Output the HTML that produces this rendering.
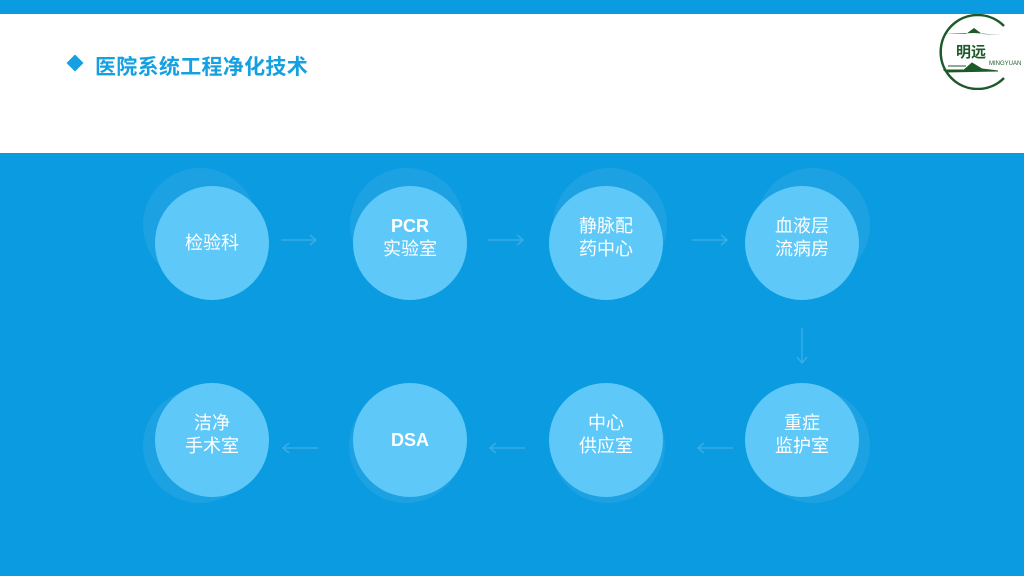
<!DOCTYPE html>
<html><head><meta charset="utf-8"><style>
body{margin:0;width:1024px;height:576px;overflow:hidden;position:relative;background:#0b9be0;font-family:"Liberation Sans","Noto Sans CJK SC",sans-serif}
.hdr{position:absolute;left:0;top:14px;width:1024px;height:139px;background:#fff}
.title{position:absolute;left:95px;top:51px;font-size:21px;font-weight:bold;color:#15a0e2;letter-spacing:0.3px}
.dia{position:absolute;left:69px;top:57px;width:12px;height:12px;background:#15a0e2;transform:rotate(45deg)}
.sh{position:absolute;width:114px;height:114px;border-radius:50%;background:rgba(255,255,255,0.07)}
.c{position:absolute;width:114px;height:114px;border-radius:50%;background:#5ec8f8;color:#fff;font-size:18px;line-height:23px;text-align:center;display:flex;align-items:center;justify-content:center}
</style></head><body>
<div class="hdr"></div>
<div class="dia"></div>
<div class="title">医院系统工程净化技术</div>
<svg style="position:absolute;left:924px;top:14px" width="100" height="76" viewBox="0 0 100 76">
<path d="M80 12 A37 37 0 1 0 80 64" fill="none" stroke="#1d5a2a" stroke-width="2.5"/>
<path d="M20 20 L42 20 L50 14 L58 20 L78 21 L50 19 Z" fill="#1d5a2a"/>
<text x="32" y="43" font-size="15" font-family="Liberation Sans,Noto Sans CJK SC,sans-serif" fill="#1d5a2a" font-weight="bold">明远</text>
<path d="M24 52 L42 52 M20 56 L40 56 L48 49 L58 55 L74 57 L22 58 Z" stroke="#1d5a2a" fill="#1d5a2a" stroke-width="1"/>
<text x="65" y="51" font-size="6" fill="#1d5a2a" font-family="Liberation Sans,sans-serif">MINGYUAN</text>
</svg>

<div class="sh" style="left:143px;top:168px"></div>
<div class="sh" style="left:350px;top:168px"></div>
<div class="sh" style="left:553px;top:168px"></div>
<div class="sh" style="left:756px;top:168px"></div>
<div class="sh" style="left:143px;top:389px"></div>
<div class="sh" style="left:349px;top:389px"></div>
<div class="sh" style="left:551px;top:389px"></div>
<div class="sh" style="left:756px;top:389px"></div>

<div class="c" style="left:155px;top:186px">检验科</div>
<div class="c" style="left:353px;top:186px"><div style="margin-top:-10px"><b>PCR</b><br>实验室</div></div>
<div class="c" style="left:549px;top:186px"><div style="margin-top:-10px">静脉配<br>药中心</div></div>
<div class="c" style="left:745px;top:186px"><div style="margin-top:-10px">血液层<br>流病房</div></div>
<div class="c" style="left:155px;top:383px"><div style="margin-top:-10px">洁净<br>手术室</div></div>
<div class="c" style="left:353px;top:383px"><b>DSA</b></div>
<div class="c" style="left:549px;top:383px"><div style="margin-top:-10px">中心<br>供应室</div></div>
<div class="c" style="left:745px;top:383px"><div style="margin-top:-10px">重症<br>监护室</div></div>

<svg style="position:absolute;left:0;top:0" width="1024" height="576">
<g stroke="#35ade6" stroke-width="1.5" fill="none">
<path d="M281 240 H316 M310 235 L316 240 L310 245"/>
<path d="M488 240 H523 M517 235 L523 240 L517 245"/>
<path d="M692 240 H727 M721 235 L727 240 L721 245"/>
<path d="M802 328 V363 M797 357 L802 363 L807 357"/>
<path d="M733 448 H698 M704 443 L698 448 L704 453"/>
<path d="M525 448 H490 M496 443 L490 448 L496 453"/>
<path d="M318 448 H283 M289 443 L283 448 L289 453"/>
</g></svg>
</body></html>
